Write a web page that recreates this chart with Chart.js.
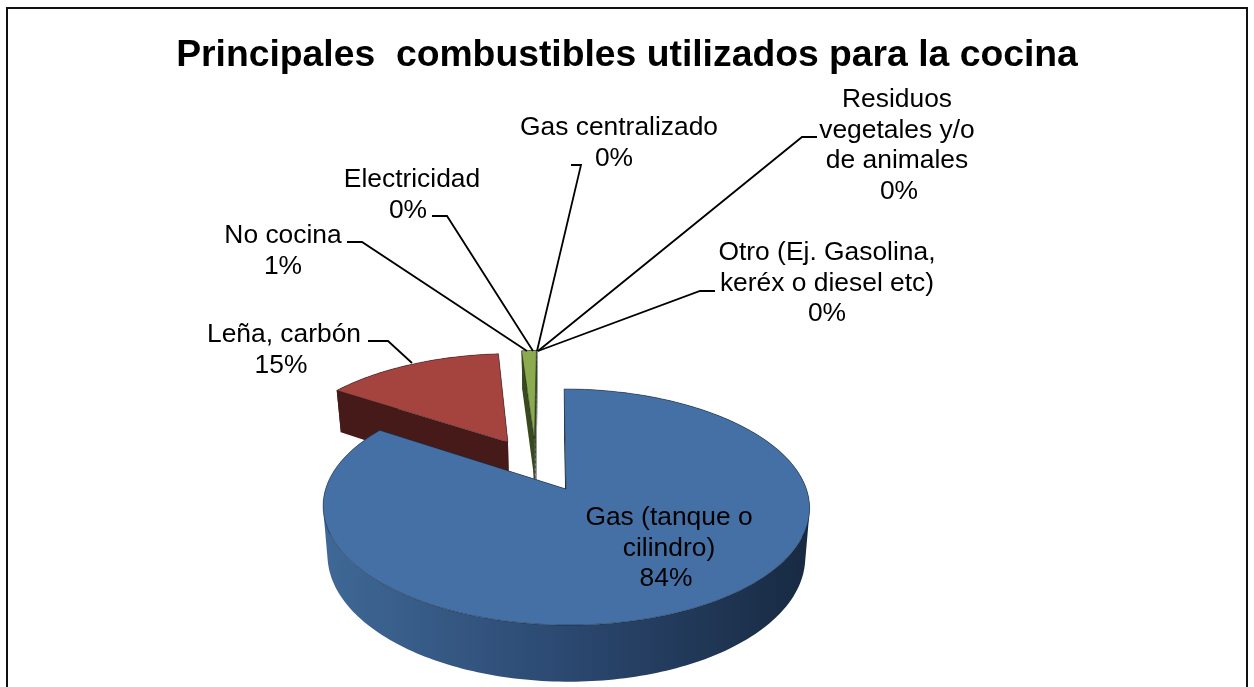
<!DOCTYPE html>
<html><head><meta charset="utf-8">
<style>html,body{margin:0;padding:0;background:#fff}#w{width:1254px;height:687px;position:relative;overflow:hidden}</style>
<script src="https://cdn.jsdelivr.net/npm/chart.js@4/dist/chart.umd.min.js"></script>
</head><body><div id="w"><canvas id="c" width="1254" height="687"></canvas></div>
<script>
const chartTitle = "Principales  combustibles utilizados para la cocina";
const categories = ["Gas (tanque o cilindro)","Leña, carbón","No cocina","Electricidad","Gas centralizado","Residuos vegetales y/o de animales","Otro (Ej. Gasolina, keréx o diesel etc)"];
const shares = [84.3,14.5,1.2,0,0,0,0];
const topColors = ["#4470a6","#a5433f","#8cab4f","#8a8f94","#8a8f94","#8a8f94","#8a8f94"];
const wallColors = ["#2d4a70","#451a18","#37491d","#6c7074","#6c7074","#6c7074","#6c7074"];

// text wrapping and placement of each data label (category text comes from categories, % from shares)
const labelLines = [["Gas (tanque o","cilindro)"],["Leña, carbón"],["No cocina"],["Electricidad"],["Gas centralizado"],["Residuos","vegetales y/o","de animales"],["Otro (Ej. Gasolina,","keréx o diesel etc)"]];
const labelCenterX = [669,284,283,412,619,897,827];
const labelFirstY = [518,335,236,180,128,100,253];
const labelPctDx = [-3,-3,0,-4,-5,2,0];
const lineStep = 30.6;
const leaders = [null,[[368,341],[388,341],[412,363]],[[347,242],[362,242],[527,351]],[[432,216],[447,216],[533,351]],[[571,165],[581,165],[537,351]],[[817,137],[802,137],[538,351]],[[715,291],[700,291],[538,351]]];

// view settings of the tilted pie
const view = {ax:566, ay:489, K:240.4, k:115.3, p:0.1525, depth:48, taper:0.018, skew:0.02, explode:[0,0.5,0.49,0.49,0.49,0.49,0.49], sliverDirDeg:343.8};

function proj(u,v,z){
  const w = 1 - view.p*v;
  const dy = view.k*v/w;
  return [view.ax + view.K*u/w*(1 - view.taper*z) + view.skew*dy, view.ay + dy + z*view.depth/w];
}
function sliceGeom(el,i){
  const a0 = el.startAngle + Math.PI/2, a1 = el.endAngle + Math.PI/2;
  const dir = i>=2 ? view.sliverDirDeg*Math.PI/180 : (a0+a1)/2;
  const e = view.explode[i];
  const ox = e*Math.sin(dir), oy = -e*Math.cos(dir);
  const n = Math.max(2, Math.ceil((a1-a0)/0.02));
  const rim = [];
  for(let j=0;j<=n;j++){const t=a0+(a1-a0)*j/n; rim.push([ox+Math.sin(t), oy-Math.cos(t)]);}
  return {o:[ox,oy], rim};
}
function pathOf(ctx,pts){ctx.beginPath();pts.forEach((p,i)=>i?ctx.lineTo(p[0],p[1]):ctx.moveTo(p[0],p[1]));ctx.closePath();}

function drawSlice(ctx,el,i){
  const g = sliceGeom(el,i);
  const loop = [g.o].concat(g.rim);
  if(shares[i]===0){
    const a=proj(g.rim[0][0],g.rim[0][1],0), b=proj(g.o[0],g.o[1],1);
    ctx.strokeStyle="#9a9ea2";ctx.lineWidth=3;ctx.beginPath();ctx.moveTo(a[0],a[1]);ctx.lineTo(b[0],b[1]);ctx.stroke();
    ctx.strokeStyle="#2a2f33";ctx.lineWidth=1;ctx.setLineDash([3,2]);ctx.stroke();ctx.setLineDash([]);
    return;
  }
  // flat walls: the two radial faces first
  const darkRadial = i===0 ? "#14233a" : wallColors[i];
  [[g.o,g.rim[0]],[g.o,g.rim[g.rim.length-1]]].forEach(([a,b])=>{
    pathOf(ctx,[proj(a[0],a[1],0),proj(b[0],b[1],0),proj(b[0],b[1],1),proj(a[0],a[1],1)]);
    ctx.fillStyle=darkRadial;ctx.fill();
  });
  // curved wall: every strip in one path, all wound the same way, so no seams appear
  let wall = wallColors[i];
  if(i===0){
    wall = ctx.createLinearGradient(326,0,808,0);
    wall.addColorStop(0,"#3f6896");wall.addColorStop(0.5,"#2b4870");wall.addColorStop(1,"#182a42");
  }
  ctx.beginPath();
  for(let j=0;j<g.rim.length-1;j++){
    const a=g.rim[j], b=g.rim[j+1];
    let q=[proj(a[0],a[1],0),proj(b[0],b[1],0),proj(b[0],b[1],1),proj(a[0],a[1],1)];
    let area=0;
    q.forEach((p,m)=>{const r=q[(m+1)%4];area+=p[0]*r[1]-r[0]*p[1];});
    if(area<0) q=q.reverse();
    q.forEach((p,m)=>m?ctx.lineTo(p[0],p[1]):ctx.moveTo(p[0],p[1]));
    ctx.closePath();
  }
  ctx.fillStyle = wall;ctx.fill("nonzero");
  pathOf(ctx,loop.map(q=>proj(q[0],q[1],0)));
  ctx.fillStyle = topColors[i];ctx.fill();
  ctx.strokeStyle = "rgba(15,20,30,0.6)";ctx.lineWidth=0.7;ctx.stroke();
}

const tiltedPie = {
  id:"tiltedPie",
  beforeDatasetDraw(){ return false; },
  afterDraw(chart){
    const ctx = chart.ctx, arcs = chart.getDatasetMeta(0).data;
    ctx.save();
    ctx.strokeStyle="#111";ctx.lineWidth=2;ctx.strokeRect(7,8,1240,720);
    // back slices first, the large front slice last
    [3,4,5,6,1,2,0].forEach(i=>drawSlice(ctx,arcs[i],i));
    ctx.strokeStyle="#000";ctx.lineWidth=1.8;
    leaders.forEach(l=>{ if(!l) return; ctx.beginPath();l.forEach((p,j)=>j?ctx.lineTo(p[0],p[1]):ctx.moveTo(p[0],p[1]));ctx.stroke();});
    ctx.fillStyle="#000";ctx.font='26.4px "Liberation Sans"';ctx.textAlign="center";ctx.textBaseline="middle";
    labelLines.forEach((lines,i)=>{
      lines.forEach((t,j)=>ctx.fillText(t,labelCenterX[i],labelFirstY[i]+j*lineStep));
      ctx.fillText(Math.round(shares[i])+"%",labelCenterX[i]+labelPctDx[i],labelFirstY[i]+lines.length*lineStep);
    });
    ctx.restore();
  }
};

new Chart(document.getElementById("c"),{
  type:"pie",
  data:{labels:categories,datasets:[{data:shares,backgroundColor:topColors,borderWidth:0}]},
  options:{
    responsive:false,animation:false,
    layout:{padding:{top:22}},
    events:[],
    plugins:{
      legend:{display:false},tooltip:{enabled:false},
      title:{display:true,text:chartTitle,color:"#000",font:{family:"Liberation Sans",size:37.3,weight:"bold"},padding:{top:11,bottom:10}}
    }
  },
  plugins:[tiltedPie]
});
</script></body></html>
